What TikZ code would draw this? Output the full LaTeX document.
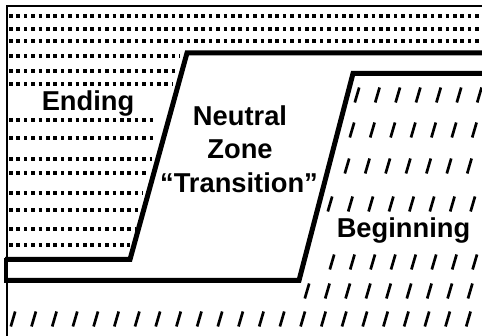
\documentclass[tikz,border=0pt]{standalone}
\usepackage{fontspec}
\setmainfont{Liberation Sans}
\begin{document}
\begin{tikzpicture}[x=1pt,y=-1pt,
  frame/.style={line width=2.4pt},
  bound/.style={line width=5pt, line join=miter},
  dotrow/.style={line width=3.6pt, dash pattern=on 3.6pt off 3.8pt},
  slash/.style={line width=2.7pt},
  lbl/.style={font=\fontsize{27.3}{32}\selectfont\bfseries, inner sep=0pt, anchor=base}]
\useasboundingbox (0,0) rectangle (482,336);
% dotted rows (Ending zone)
\foreach \y/\xe in {16/482,29/482,41/482,56/180,71/177,84/173,120/155,138/155,159/152,173/148,193/143,210/140,229/135,245/130}
  \draw[dotrow] (9,\y) -- (\xe,\y);
% slash rows (Beginning zone)
\foreach \y/\xs/\n/\d in {95/357/6/20.4, 130/352/6/20.4, 166/347/6/20.4, 204/330/7/20.4, 262/332/7/20.4, 291/307/8/20.4, 319/13/22/20.7}
  \foreach \k in {0,...,\n}
    \draw[slash] ({\xs+\d*\k-2.2},\y+7.5) -- ++(4.4,-15);
% frame
\draw[frame] (7,340) -- (7,6) -- (486,6);
% boundaries
\draw[bound] (5,259.5) -- (130,259.5) -- (187,53) -- (486,53);
\draw[bound] (5,280.5) -- (299,280.5) -- (353,73.5) -- (486,73.5);
\draw[line width=4pt] (6,258) -- (6,283);
% labels
\node[lbl] (ending) at (88,111) {Ending};
\node[lbl] (neutral) at (240,126) {Neutral};
\node[lbl] (zone) at (240,159) {Zone};
\node[lbl] (transition) at (239,193) {“Transition”};
\node[lbl] (beginning) at (403.5,238) {Beginning};
\end{tikzpicture}
\end{document}
